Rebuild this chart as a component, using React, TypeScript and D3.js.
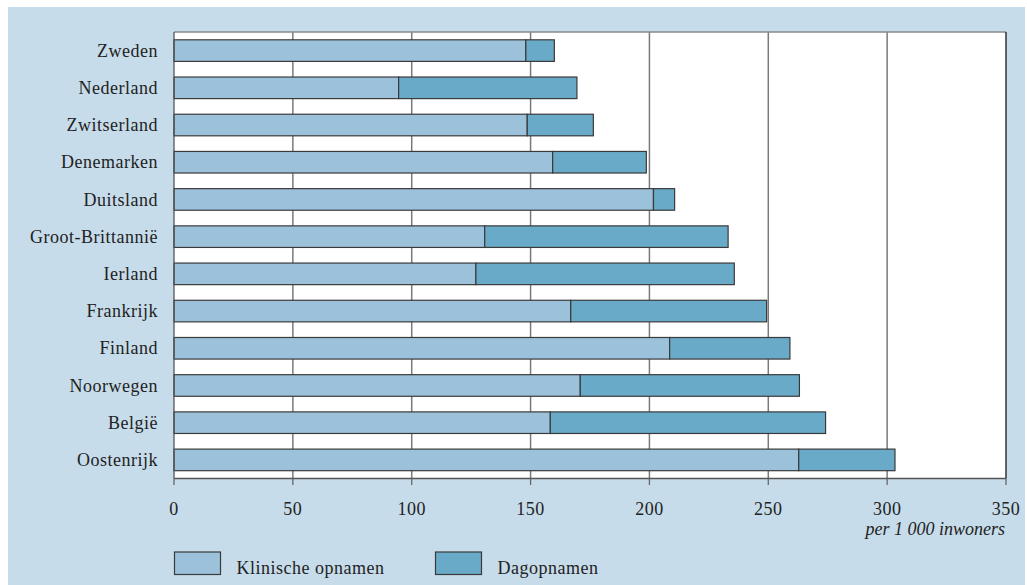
import React from "react";
import * as d3 from "d3";

const countries = [
  "Zweden", "Nederland", "Zwitserland", "Denemarken", "Duitsland", "Groot-Brittannië",
  "Ierland", "Frankrijk", "Finland", "Noorwegen", "België", "Oostenrijk",
];
const klinisch = [148, 94.5, 148.6, 159.3, 201.7, 130.7, 127, 166.9, 208.5, 170.9, 158.3, 262.8];
const dag = [12, 75, 27.8, 39.4, 8.9, 102.4, 108.7, 82.4, 50.6, 92.2, 115.8, 40.5];
const xTicks = [0, 50, 100, 150, 200, 250, 300, 350];
const seriesNames = ["Klinische opnamen", "Dagopnamen"];
const axisUnit = "per 1 000 inwoners";

const W = 1027, H = 585;
const M = { left: 174, right: 1006, top: 32, bottom: 478.5 };
const C1 = "#9bc2da", C2 = "#69aac9", BG = "#c6dcea";
const FONT = "'Liberation Serif', serif";
const FS = 18;
const LS = 0.5;

export default function App() {
  const x = d3.scaleLinear().domain([0, 350]).range([M.left, M.right]);
  const y = d3.scaleBand<string>().domain(countries).range([M.top, M.bottom]).paddingInner(0.42).paddingOuter(0.21);
  const bw = y.bandwidth();
  return (
    <div style={{ position: "absolute", left: 0, top: 0 }}>
      <svg width={W} height={H} style={{ display: "block" }}>
        <rect x={8} y={7} width={1017} height={H - 7} fill={BG} />
        <rect x={M.left} y={M.top} width={M.right - M.left} height={M.bottom - M.top} fill="#fff" />
        {xTicks.slice(1, -1).map((t) => (
          <line key={t} x1={x(t)} x2={x(t)} y1={M.top} y2={M.bottom} stroke="#7a7a7a" strokeWidth={1.5} />
        ))}
        {countries.map((c, i) => {
          const y0 = y(c)!;
          return (
            <g key={c}>
              <rect x={x(0)} y={y0} width={x(klinisch[i]) - x(0)} height={bw} fill={C1} stroke="#3a3a3a" strokeWidth={1.2} />
              <rect x={x(klinisch[i])} y={y0} width={x(klinisch[i] + dag[i]) - x(klinisch[i])} height={bw} fill={C2} stroke="#3a3a3a" strokeWidth={1.2} />
              <text x={158} y={y0 + bw / 2} dy="0.34em" textAnchor="end" fontFamily={FONT} fontSize={FS} letterSpacing={LS} fill="#222">{c}</text>
            </g>
          );
        })}
        <line x1={M.left} x2={M.right} y1={M.top} y2={M.top} stroke="#8a8a8a" strokeWidth={1.5} />
        <line x1={M.left} x2={M.right} y1={M.bottom} y2={M.bottom} stroke="#555" strokeWidth={1.3} />
        <line x1={M.right} x2={M.right} y1={M.top} y2={M.bottom} stroke="#333" strokeWidth={1.5} />
        <line x1={M.left} x2={M.left} y1={M.top} y2={M.bottom} stroke="#555" strokeWidth={1.3} />
        {xTicks.map((t) => (
          <g key={t}>
            <line x1={x(t)} x2={x(t)} y1={M.bottom} y2={485} stroke="#666" strokeWidth={1.3} />
            <text x={x(t)} y={515} textAnchor="middle" fontFamily={FONT} fontSize={FS} letterSpacing={LS} fill="#222">{t}</text>
          </g>
        ))}
        <text x={1005} y={535} textAnchor="end" fontFamily={FONT} fontStyle="italic" fontSize={18} fill="#222">{axisUnit}</text>
        {seriesNames.map((s, i) => {
          const lx = i === 0 ? 174.5 : 435.5;
          return (
            <g key={s}>
              <rect x={lx} y={552} width={46} height={22.5} fill={i === 0 ? C1 : C2} stroke="#3a3a3a" strokeWidth={1.2} />
              <text x={lx + 62} y={574} fontFamily={FONT} fontSize={FS} letterSpacing={LS} fill="#222">{s}</text>
            </g>
          );
        })}
      </svg>
    </div>
  );
}
